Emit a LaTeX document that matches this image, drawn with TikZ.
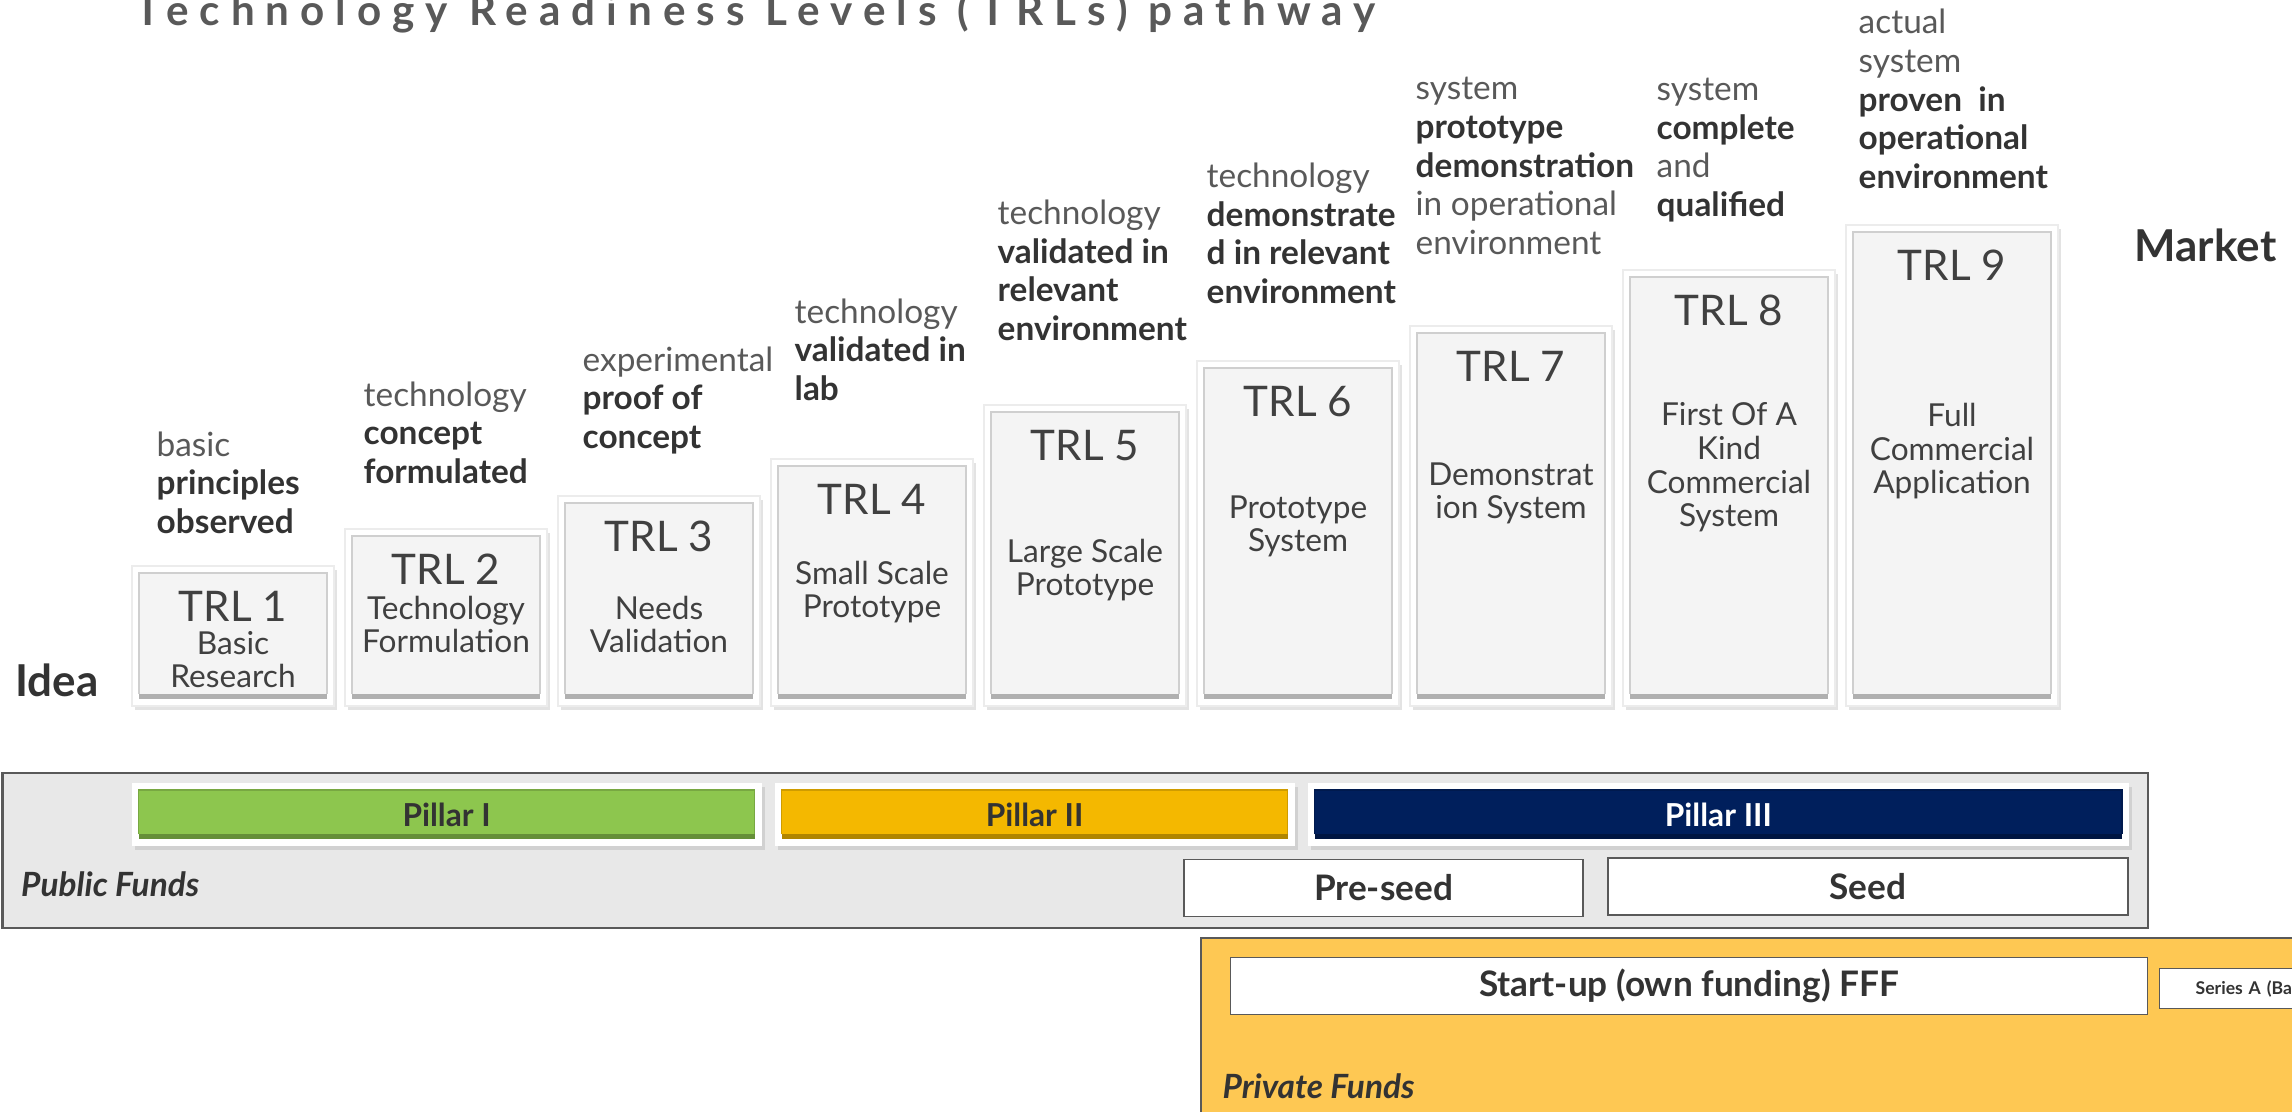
\documentclass[tikz,border=0pt]{standalone}
\usepackage{fontspec}
\setmainfont{Lato}
\newfontfamily\titlefont[LetterSpace=26]{Lato}
\usepackage{tikz}
\usetikzlibrary{positioning,shadows}

\definecolor{txtdark}{HTML}{333333}
\definecolor{txtgray}{HTML}{595959}
\definecolor{boxtext}{HTML}{404040}
\definecolor{panelgray}{HTML}{F4F4F4}
\definecolor{pubgray}{HTML}{E8E8E8}
\definecolor{privorange}{HTML}{FEC853}
\definecolor{pillargreen}{HTML}{8DC64E}
\definecolor{pillarorange}{HTML}{F4B800}
\definecolor{pillarnavy}{HTML}{001F5C}

\newcommand{\bw}[1]{{\bfseries\color{txtdark}#1}}

\tikzset{
  panel/.style={path picture={
    \fill[#1] ([shift={(0.07,0.07)}]path picture bounding box.south west)
      rectangle ([shift={(-0.07,-0.07)}]path picture bounding box.north east);
    \fill[#1!72!black] ([shift={(0.07,0.07)}]path picture bounding box.south west)
      rectangle ([shift={(-0.07,0.12)}]path picture bounding box.south east);
    \draw[#1!85!black,line width=0.5pt] ([shift={(0.07,0.12)}]path picture bounding box.south west)
      -- ([shift={(0.07,-0.07)}]path picture bounding box.north west)
      -- ([shift={(-0.07,-0.07)}]path picture bounding box.north east)
      -- ([shift={(-0.07,0.12)}]path picture bounding box.south east);
  }}
}

\begin{document}
\begin{tikzpicture}[font=\fontsize{9.5}{11}\selectfont]
  \tikzstyle{trlbox}=[fill=white,draw=gray!15,inner sep=0pt,outer sep=0pt,minimum width=2.02cm,
    drop shadow={opacity=0.22,shadow xshift=0.03cm,shadow yshift=-0.04cm},panel=panelgray]
  \tikzstyle{trllabel}=[anchor=base,inner sep=0pt,text=boxtext,font=\fontsize{12}{14}\selectfont]
  \tikzstyle{trldesc}=[anchor=base,align=center,inner sep=0pt,text=boxtext,font=\fontsize{9}{9.6}\selectfont]
  \tikzstyle{annot}=[anchor=base west,align=left,inner sep=0pt,text=txtgray]
  \tikzstyle{endlabel}=[anchor=base west,inner sep=0pt,text=txtdark,font=\bfseries\fontsize{12.5}{14}\selectfont]
  \tikzstyle{pillar}=[fill=white,inner sep=0pt,outer sep=0pt,minimum height=0.63cm,anchor=south west,
    drop shadow={opacity=0.22,shadow xshift=0.03cm,shadow yshift=-0.04cm},
    text=txtdark,font=\bfseries\fontsize{9}{10}\selectfont]
  \tikzstyle{stagebox}=[draw=txtgray,fill=white,inner sep=0pt,minimum height=0.57cm,
    text=txtdark,font=\bfseries\fontsize{10}{12}\selectfont]
  \tikzstyle{fundlabel}=[anchor=west,inner sep=0pt,text=txtdark,font=\bfseries\itshape\fontsize{9.5}{11}\selectfont]

  \useasboundingbox (0,0) rectangle (22.92,11.12);

  % Title
  \node[anchor=base west,inner sep=0pt,text=txtgray,font=\titlefont\bfseries\fontsize{12}{14}\selectfont]
    (title) at (1.345,10.86) {Technology Readiness Levels (TRLs) pathway};

  % Steps TRL 1 .. TRL 9
  \node[trlbox,minimum height=1.40cm,anchor=south west] (t1) at (1.32,4.06) {};
  \node[trlbox,minimum height=1.77cm] (t2) [right=0.11cm of t1.south east,anchor=south west] {};
  \node[trlbox,minimum height=2.10cm] (t3) [right=0.11cm of t2.south east,anchor=south west] {};
  \node[trlbox,minimum height=2.47cm] (t4) [right=0.11cm of t3.south east,anchor=south west] {};
  \node[trlbox,minimum height=3.01cm] (t5) [right=0.11cm of t4.south east,anchor=south west] {};
  \node[trlbox,minimum height=3.45cm] (t6) [right=0.11cm of t5.south east,anchor=south west] {};
  \node[trlbox,minimum height=3.80cm] (t7) [right=0.11cm of t6.south east,anchor=south west] {};
  \node[trlbox,minimum height=4.36cm,minimum width=2.12cm] (t8) [right=0.11cm of t7.south east,anchor=south west] {};
  \node[trlbox,minimum height=4.81cm,minimum width=2.12cm] (t9) [right=0.11cm of t8.south east,anchor=south west] {};

  % Labels in the steps
  \node[trllabel] (l1) at ([yshift=-0.56cm]t1.north) {TRL 1};
  \node[trllabel] (l2) at ([yshift=-0.56cm]t2.north) {TRL 2};
  \node[trllabel] (l3) at ([yshift=-0.56cm]t3.north) {TRL 3};
  \node[trllabel] (l4) at ([yshift=-0.56cm]t4.north) {TRL 4};
  \node[trllabel] (l5) at ([yshift=-0.56cm]t5.north) {TRL 5};
  \node[trllabel] (l6) at ([yshift=-0.56cm]t6.north) {TRL 6};
  \node[trllabel] (l7) at ([yshift=-0.56cm]t7.north) {TRL 7};
  \node[trllabel] (l8) at ([yshift=-0.56cm]t8.north) {TRL 8};
  \node[trllabel] (l9) at ([yshift=-0.56cm]t9.north) {TRL 9};

  % base of a multi-line node is its last line
  \node[trldesc] (d1) at ([yshift=-1.22cm]t1.north) {Basic\\Research};
  \node[trldesc] (d2) at ([yshift=-1.24cm]t2.north) {Technology\\Formulation};
  \node[trldesc] (d3) at ([yshift=-1.57cm]t3.north) {Needs\\Validation};
  \node[trldesc] (d4) at ([yshift=-1.59cm]t4.north) {Small Scale\\Prototype};
  \node[trldesc] (d5) at ([yshift=-1.91cm]t5.north) {Large Scale\\Prototype};
  \node[trldesc] (d6) at ([yshift=-1.91cm]t6.north) {Prototype\\System};
  \node[trldesc] (d7) at ([yshift=-1.93cm]t7.north) {Demonstrat\\ion System};
  \node[trldesc] (d8) at ([yshift=-2.57cm]t8.north) {First Of A\\Kind\\Commercial\\System};
  \node[trldesc] (d9) at ([yshift=-2.69cm]t9.north) {Full\\Commercial\\Application};

  % What each level means
  \node[annot] (a1) at (1.56,5.785) {basic\\\bw{principles}\\\bw{observed}};
  \node[annot] (a2) at (3.63,6.285) {technology\\\bw{concept}\\\bw{formulated}};
  \node[annot] (a3) at (5.82,6.635) {experimental\\\bw{proof of}\\\bw{concept}};
  \node[annot] (a4) at (7.94,7.115) {technology\\\bw{validated in}\\\bw{lab}};
  \node[annot] (a5) at (9.97,7.715) {technology\\\bw{validated in}\\\bw{relevant}\\\bw{environment}};
  \node[annot] (a6) at (12.06,8.085) {technology\\\bw{demonstrate}\\\bw{d in relevant}\\\bw{environment}};
  \node[annot] (a7) at (14.15,8.575) {system\\\bw{prototype}\\\bw{demonstration}\\in operational\\environment};
  \node[annot] (a8) at (16.56,8.955) {system\\\bw{complete}\\and\\\bw{qualified}};
  \node[annot] (a9) at (18.58,9.235) {actual\\system\\\bw{proven\ \ in}\\\bw{operational}\\\bw{environment}};

  \node[endlabel] (idea) at (0.146,4.15) {Idea};
  \node[endlabel] (market) at (21.34,8.50) {Market};

  % Public funds
  \node[draw=txtgray,line width=0.6pt,fill=pubgray,inner sep=0pt,anchor=north west,
    minimum width=21.455cm,minimum height=1.55cm] (pub) at (0.015,3.402) {};
  \node[pillar,minimum width=6.30cm,panel=pillargreen] (p1) at (1.316,2.657) {Pillar I};
  \node[pillar,minimum width=5.20cm,panel=pillarorange] (p2) [right=0.13cm of p1.south east,anchor=south west] {Pillar II};
  \node[pillar,minimum width=8.215cm,panel=pillarnavy,text=white] (p3) [right=0.13cm of p2.south east,anchor=south west] {Pillar III};
  \node[fundlabel] (publabel) at (0.205,2.277) {Public Funds};
  \node[stagebox,minimum width=3.99cm] (preseed) at (13.835,2.24) {Pre-seed};
  \node[stagebox,minimum width=5.20cm] (seed) at (18.68,2.255) {Seed};

  % Private funds
  \node[draw=txtgray,line width=0.6pt,fill=privorange,inner sep=0pt,anchor=north west,
    minimum width=12cm,minimum height=2.5cm] (priv) at (12.0,1.749) {};
  \node[stagebox,minimum width=9.166cm] (startup) at (16.89,1.261) {Start-up (own funding) FFF};
  \node[draw=txtgray,fill=white,anchor=west,minimum height=0.40cm,inner xsep=0.36cm,inner ysep=0pt,
    text width=1.4cm,align=left,text=txtdark,font=\bfseries\fontsize{5}{6}\selectfont]
    (seriesa) at (21.59,1.232) {Series A (Ba};
  \node[fundlabel] (privlabel) at (12.22,0.26) {Private Funds};
\end{tikzpicture}
\end{document}
